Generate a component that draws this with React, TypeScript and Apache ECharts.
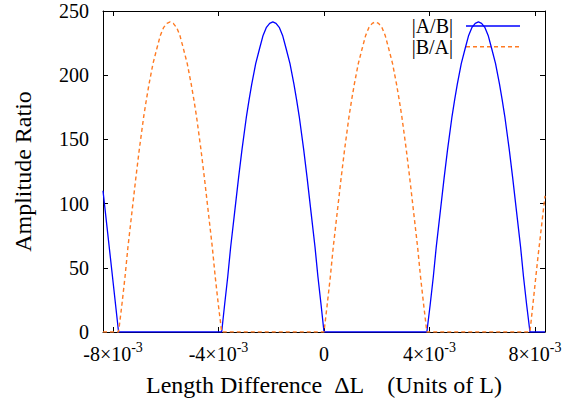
import React, { useEffect, useRef } from "react";
import * as echarts from "echarts";

// x values are in units of 10^-3 L (the axis labels show "n×10^-3")
const abX = [
  -8.38, -8.1, -7.79,
  -3.88, -3.77, -3.65, -3.54, -3.39, -3.24, -3.11, -2.94, -2.84, -2.74, -2.59, -2.44, -2.31, -2.19, -2.06, -1.94,
  -1.82, -1.69, -1.57, -1.44, -1.29, -1.14, -1.04, -0.94, -0.77, -0.64, -0.49, -0.34, -0.23, -0.11, 0,
  3.9, 4.025, 4.145, 4.255, 4.405, 4.555, 4.685, 4.855, 4.955, 5.055, 5.205, 5.355, 5.485, 5.605, 5.735, 5.855,
  5.975, 6.105, 6.225, 6.355, 6.505, 6.655, 6.755, 6.855, 7.025, 7.155, 7.305, 7.455, 7.565, 7.685, 7.81,
  8.38,
];
const abY = [
  110, 58, 0,
  0, 21, 43, 66, 93, 120, 142, 168, 181, 193, 209, 221, 231, 237, 240.4, 241.5,
  240.4, 237, 231, 221, 209, 193, 181, 168, 142, 120, 93, 66, 43, 21, 0,
  0, 21, 43, 66, 93, 120, 142, 168, 181, 193, 209, 221, 231, 237, 240.4, 241.5,
  240.4, 237, 231, 221, 209, 193, 181, 168, 142, 120, 93, 66, 43, 21, 0,
  0,
];

const baX = [
  -8.38,
  -7.79, -7.665, -7.545, -7.435, -7.285, -7.135, -7.005, -6.835, -6.735, -6.635, -6.485, -6.335, -6.205, -6.085, -5.955, -5.835,
  -5.715, -5.585, -5.465, -5.335, -5.185, -5.035, -4.935, -4.835, -4.665, -4.535, -4.385, -4.235, -4.125, -4.005, -3.88,
  0, 0.12, 0.24, 0.35, 0.5, 0.65, 0.78, 0.95, 1.05, 1.15, 1.3, 1.45, 1.58, 1.7, 1.83, 1.95,
  2.07, 2.2, 2.32, 2.45, 2.6, 2.75, 2.85, 2.95, 3.12, 3.25, 3.4, 3.55, 3.66, 3.78, 3.9,
  7.81, 8.1, 8.38,
];
const baY = [
  0,
  0, 21, 43, 66, 93, 120, 142, 168, 181, 193, 209, 221, 231, 237, 240.4, 241.5,
  240.4, 237, 231, 221, 209, 193, 181, 168, 142, 120, 93, 66, 43, 21, 0,
  0, 21, 43, 66, 93, 120, 142, 168, 181, 193, 209, 221, 231, 237, 240.4, 241.5,
  240.4, 237, 231, 221, 209, 193, 181, 168, 142, 120, 93, 66, 43, 21, 0,
  0, 56, 106,
];

const xTicks = [-8, -4, 0, 4, 8];
const xRange = [-8.38, 8.38];
const yRange = [0, 250];
const yStep = 50;

const seriesNames = ["|A/B|", "|B/A|"];
const xTitle = "Length Difference  \u0394L    (Units of L)";
const yTitle = "Amplitude Ratio";

const FONT = "Liberation Serif";
const BLUE = "#0000ff";
const ORANGE = "#ff7a22";

export default function App() {
  const ref = useRef<HTMLDivElement>(null);
  useEffect(() => {
    if (!ref.current) return;
    const chart = echarts.init(ref.current, undefined, { renderer: "svg" });
    const ab = abX.map((x, i) => [x, abY[i]]);
    const ba = baX.map((x, i) => [x, baY[i]]);
    const axisLine = { show: true, onZero: false, lineStyle: { color: "#000", width: 1 } };
    const tick = { show: true, inside: true, length: 5, lineStyle: { color: "#000", width: 1 } };
    chart.setOption({
      animation: false,
      backgroundColor: "#fff",
      textStyle: { fontFamily: FONT },
      grid: { left: 103, right: 27, top: 11, bottom: 67, containLabel: false },
      xAxis: [
        {
          type: "value",
          min: xRange[0],
          max: xRange[1],
          axisLine,
          axisTick: { ...tick, customValues: xTicks },
          splitLine: { show: false },
          axisLabel: {
            customValues: xTicks,
            margin: 10,
            formatter: (v: number) => (v === 0 ? "{a|0}" : `{a|${v}×10}{s|-3}`),
            rich: {
              a: { fontFamily: FONT, fontSize: 20, lineHeight: 22, color: "#000", verticalAlign: "bottom" },
              s: { fontFamily: FONT, fontSize: 14, lineHeight: 14, color: "#000", verticalAlign: "bottom", padding: [0, 0, 10, 0] },
            },
          },
          name: xTitle,
          nameLocation: "middle",
          nameGap: 41,
          nameTextStyle: { fontFamily: FONT, fontSize: 24, color: "#000" },
        },
        {
          type: "value",
          position: "top",
          min: xRange[0],
          max: xRange[1],
          axisLine,
          axisTick: { ...tick, customValues: xTicks },
          axisLabel: { show: false },
          splitLine: { show: false },
        },
      ],
      yAxis: [
        {
          type: "value",
          min: yRange[0],
          max: yRange[1],
          interval: yStep,
          axisLine,
          axisTick: tick,
          splitLine: { show: false },
          axisLabel: { margin: 14, fontFamily: FONT, fontSize: 20, color: "#000" },
          name: yTitle,
          nameLocation: "middle",
          nameGap: 68,
          nameTextStyle: { fontFamily: FONT, fontSize: 24, color: "#000" },
        },
        {
          type: "value",
          position: "right",
          min: yRange[0],
          max: yRange[1],
          interval: yStep,
          axisLine,
          axisTick: tick,
          axisLabel: { show: false },
          splitLine: { show: false },
        },
      ],
      series: [
        {
          name: seriesNames[0],
          type: "line",
          data: ab,
          symbol: "none",
          showSymbol: false,
          clip: true,
          lineStyle: { color: BLUE, width: 1.3 },
          z: 2,
        },
        {
          name: seriesNames[1],
          type: "line",
          data: ba,
          symbol: "none",
          showSymbol: false,
          clip: true,
          lineStyle: { color: ORANGE, width: 1.4, type: [4, 3] },
          z: 3,
        },
      ],
      graphic: [
        {
          type: "text",
          x: 453,
          y: 26,
          style: { text: seriesNames[0], fontFamily: FONT, fontSize: 20, fill: "#000", textAlign: "right", textVerticalAlign: "middle" },
        },
        { type: "line", shape: { x1: 466, y1: 26, x2: 520, y2: 26 }, style: { stroke: BLUE, lineWidth: 1.3 } },
        {
          type: "text",
          x: 453,
          y: 46.7,
          style: { text: seriesNames[1], fontFamily: FONT, fontSize: 20, fill: "#000", textAlign: "right", textVerticalAlign: "middle" },
        },
        { type: "line", shape: { x1: 466, y1: 46.7, x2: 520, y2: 46.7 }, style: { stroke: ORANGE, lineWidth: 1.4, lineDash: [4, 3] } },
      ],
    });
    return () => chart.dispose();
  }, []);
  return <div ref={ref} style={{ width: 572, height: 402, position: "absolute", left: 0, top: 0 }} />;
}
